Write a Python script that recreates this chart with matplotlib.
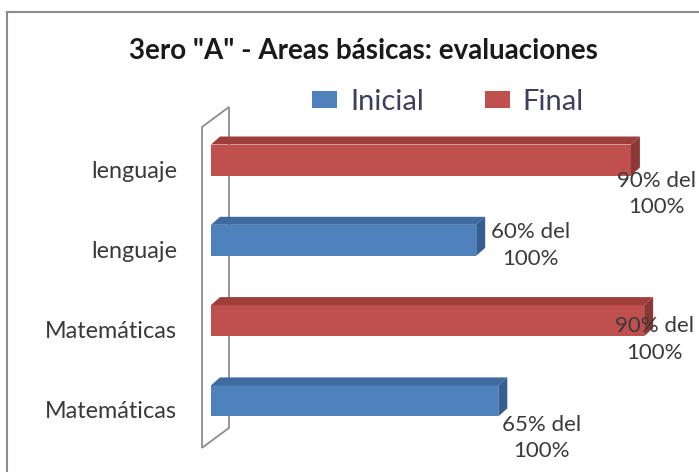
import numpy as np
import matplotlib
matplotlib.use('Agg')
import matplotlib.pyplot as plt
from matplotlib.patches import Polygon, Patch
from matplotlib.transforms import ScaledTranslation

plt.rcParams['font.family'] = ['Lato', 'DejaVu Sans']

# data, bottom row first
categories = ['Matemáticas', 'Matemáticas', 'lenguaje', 'lenguaje']
series = ['Inicial', 'Final', 'Inicial', 'Final']
values = [65, 98, 60, 95]
value_labels = ['65% del\n100%', '90% del\n100%', '60% del\n100%', '90% del\n100%']
title = '3ero "A" - Areas básicas: evaluaciones'

colors = {'Inicial': '#4F81BD', 'Final': '#C0504D'}
tops = {'Inicial': '#3E6AA0', 'Final': '#9E3E3B'}
sides = {'Inicial': '#365F91', 'Final': '#8C3836'}
# label offsets in pixels from bar end / bar centre (placement as in the original)
label_off = [(43, -37), (10, -19), (54, -5), (26, -34)]

W, H = 699, 472
fig = plt.figure(figsize=(W / 100, H / 100), dpi=100)

# outer frame of the chart area
fig.add_artist(plt.Line2D([7 / W, 7 / W], [0, 1 - 12 / H], color='#8c8c8c', lw=1.5))
fig.add_artist(plt.Line2D([7 / W, 1], [1 - 12 / H, 1 - 12 / H], color='#8c8c8c', lw=1.5))

px_x = 4.42   # pixels per value unit
px_y = 80.3   # pixels per category step
xmin = -9 / px_x
ymin, ymax = -0.585, 3.411
ax_left, ax_top = 202, 127
ax_w = (100 - xmin) * px_x
ax_h = (ymax - ymin) * px_y
ax = fig.add_axes([ax_left / W, 1 - (ax_top + ax_h) / H, ax_w / W, ax_h / H])
ax.set_xlim(xmin, 100)
ax.set_ylim(ymin, ymax)
for s in ax.spines.values():
    s.set_visible(False)
ax.set_xticks([])

pos = np.arange(len(values))
h = 0.386
ddx, ddy = 9 / px_x, 8 / px_y

# side wall
wdx, wdy = 27 / px_x, 20 / px_y
wall = Polygon([(xmin, ymin), (xmin, ymax), (xmin + wdx, ymax + wdy), (xmin + wdx, ymin + wdy)],
               closed=True, facecolor='white', edgecolor='#8c8c8c', lw=1.3, clip_on=False, zorder=1)
ax.add_patch(wall)

for y, v, s in zip(pos, values, series):
    ax.barh(y, v, height=h, color=colors[s], zorder=3)
    top = Polygon([(0, y + h / 2), (v, y + h / 2), (v + ddx, y + h / 2 + ddy), (ddx, y + h / 2 + ddy)],
                  closed=True, facecolor=tops[s], edgecolor='none', clip_on=False, zorder=3)
    side = Polygon([(v, y - h / 2), (v, y + h / 2), (v + ddx, y + h / 2 + ddy), (v + ddx, y - h / 2 + ddy)],
                   closed=True, facecolor=sides[s], edgecolor='none', clip_on=False, zorder=3)
    ax.add_patch(top)
    ax.add_patch(side)

for y, v, lab, (ox, oy) in zip(pos, values, value_labels, label_off):
    ax.annotate(lab, (v, y), xytext=(ox, oy), textcoords='offset pixels',
                ha='center', va='center', fontsize=16, color='#3a3a3a',
                linespacing=1.4, annotation_clip=False, zorder=5)

ax.set_yticks(pos, categories)
ax.tick_params(axis='y', length=0, pad=18, labelsize=16.8, labelcolor='#3a3a3a')
shift = ScaledTranslation(0, -9 / 100, fig.dpi_scale_trans)
for t in ax.get_yticklabels():
    t.set_transform(t.get_transform() + shift)

fig.text(363 / W, 1 - 51 / H, title, ha='center', va='center', fontsize=20, fontweight='bold',
         color='#1a1a1a')

handles = [Patch(facecolor=colors[k], edgecolor='none') for k in ['Inicial', 'Final']]
fig.legend(handles, ['Inicial', 'Final'], loc='center', bbox_to_anchor=(448 / W, 1 - 102 / H),
           ncol=2, frameon=False, fontsize=21, handlelength=0.85, handleheight=0.5,
           columnspacing=2.1, handletextpad=0.45, labelcolor='#3f3f5a')

fig.savefig('out.png', dpi=100)
